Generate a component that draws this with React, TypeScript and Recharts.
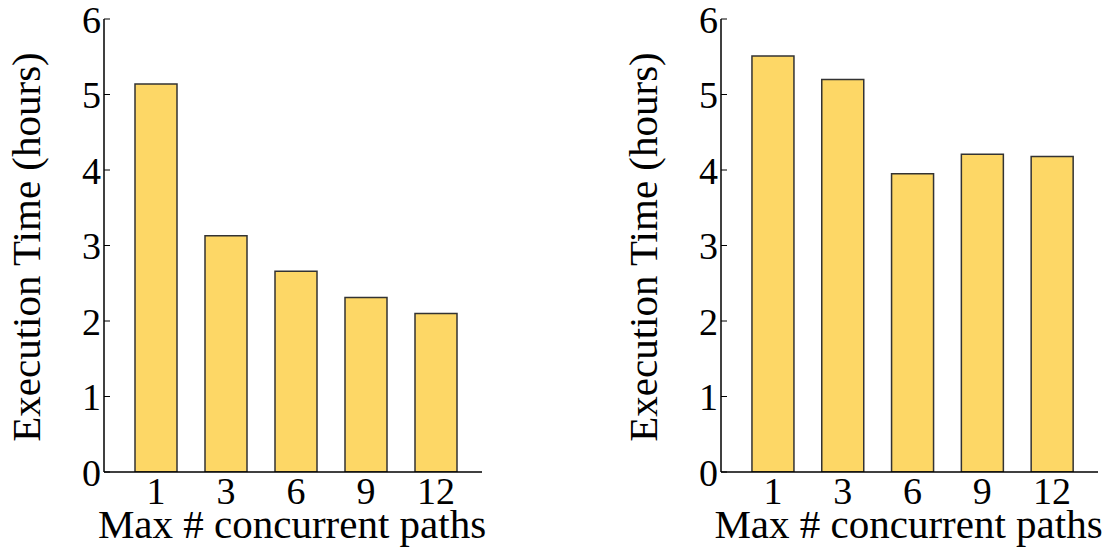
import { Bar, BarChart, XAxis, YAxis } from 'recharts';

const categories = ['1', '3', '6', '9', '12'];
const leftHours = [5.14, 3.13, 2.66, 2.31, 2.1];
const rightHours = [5.51, 5.2, 3.95, 4.21, 4.18];
const yTicks = [0, 1, 2, 3, 4, 5, 6];

const FONT = "'Liberation Serif', 'Times New Roman', serif";
const BAR_FILL = '#fdd766';

function YTick(props: any) {
  const { x, y, payload } = props;
  return (
    <g>
      <line x1={x} y1={y} x2={x + 6} y2={y} stroke="#000" strokeWidth={1} />
      <text x={x - 3} y={y} dy="0.36em" textAnchor="end" fontSize={38} fontFamily={FONT} fill="#000">
        {payload.value}
      </text>
    </g>
  );
}

function XTick(props: any) {
  const { x, y, payload } = props;
  return (
    <text x={x} y={y} dy="0.71em" textAnchor="middle" fontSize={38} fontFamily={FONT} fill="#000">
      {payload.value}
    </text>
  );
}

interface PanelProps {
  values: number[];
  left: number;
  axisWidth: number;
  rightMargin: number;
}

function Panel({ values, left, axisWidth, rightMargin }: PanelProps) {
  const data = categories.map((c, i) => ({ label: c, hours: values[i] }));
  return (
    <div style={{ position: 'absolute', left, top: 0 }}>
      <BarChart
        width={557}
        height={548}
        data={data}
        margin={{ top: 19, right: rightMargin, bottom: 0, left: 0 }}
        barCategoryGap="20%"
      >
        <XAxis
          dataKey="label"
          height={76}
          padding={{ left: 17, right: 11 }}
          axisLine={{ stroke: '#000', strokeWidth: 1.5 }}
          tickLine={false}
          tickSize={0}
          tickMargin={5}
          interval={0}
          tick={<XTick />}
          label={(p: any) => {
            const vb = p.viewBox;
            return (
              <text
                x={vb.x + vb.width / 2 - 1}
                y={vb.y + 66}
                textAnchor="middle"
                fontSize={41}
                fontFamily={FONT}
                fill="#000"
              >
                Max # concurrent paths
              </text>
            );
          }}
        />
        <XAxis
          xAxisId="top"
          dataKey="label"
          orientation="top"
          height={0}
          tick={false}
          tickLine={false}
          axisLine={{ stroke: '#000', strokeWidth: 1.5 }}
        />
        <YAxis
          width={axisWidth}
          domain={[0, 6]}
          ticks={yTicks}
          allowDataOverflow
          axisLine={{ stroke: '#000', strokeWidth: 1.5 }}
          tickLine={false}
          tickSize={0}
          tickMargin={0}
          tick={<YTick />}
          label={(p: any) => {
            const vb = p.viewBox;
            const cx = vb.x + vb.width - 64;
            const cy = 247;
            return (
              <text
                x={cx}
                y={cy}
                transform={`rotate(-90, ${cx}, ${cy})`}
                textAnchor="middle"
                fontSize={41}
                fontFamily={FONT}
                fill="#000"
              >
                Execution Time (hours)
              </text>
            );
          }}
        />
        <YAxis
          yAxisId="right"
          orientation="right"
          width={0}
          domain={[0, 6]}
          tick={false}
          tickLine={false}
          axisLine={{ stroke: '#000', strokeWidth: 1.5 }}
        />
        <Bar dataKey="hours" fill={BAR_FILL} stroke="#333" strokeWidth={1.5} isAnimationActive={false} />
      </BarChart>
    </div>
  );
}

export default function App() {
  return (
    <div
      style={{
        position: 'absolute',
        left: 0,
        top: 0,
        width: 1114,
        height: 548,
        background: '#fff',
        fontFamily: FONT,
      }}
    >
      <Panel values={leftHours} left={0} axisWidth={104} rightMargin={75} />
      <Panel values={rightHours} left={557} axisWidth={164} rightMargin={16} />
    </div>
  );
}
